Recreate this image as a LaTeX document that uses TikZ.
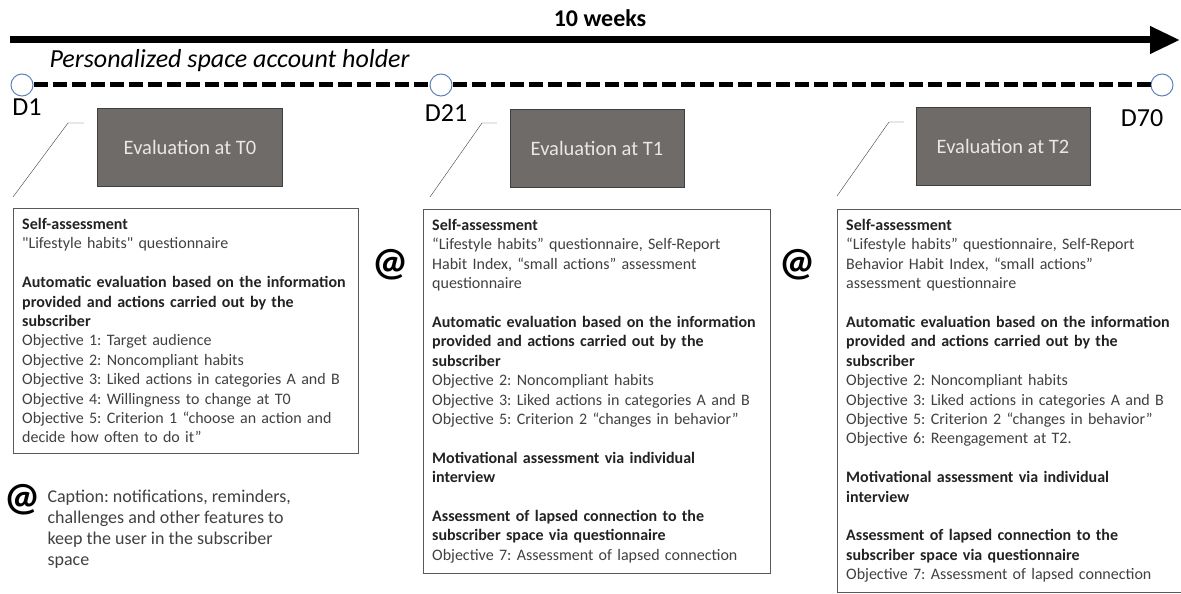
\documentclass[tikz,border=0pt]{standalone}
\usepackage{fontspec}
\setmainfont{Carlito}
\usepackage{tikz}
\usetikzlibrary{arrows.meta,positioning}
\definecolor{evalgray}{HTML}{6E6B69}
\definecolor{evaltext}{HTML}{E8E8E8}
\definecolor{evaledge}{HTML}{3F3F3F}
\definecolor{markblue}{HTML}{5B84B5}
\definecolor{bodytext}{HTML}{404040}
\definecolor{headtext}{HTML}{222222}
\definecolor{frameedge}{HTML}{595959}
\newcommand{\hd}[1]{\textbf{\color{headtext}#1}}
\newcommand{\sq}{{\addfontfeatures{Ligatures=TeXOff}"}}
\frenchspacing
\tikzset{%
	evalbox/.style  = {draw=evaledge, fill=evalgray, text=evaltext, rectangle, minimum width=174pt, minimum height=78pt, font=\fontsize{20.5}{24}\selectfont}, % Evaluation
	infobox/.style  = {draw=frameedge, rectangle, anchor=north west, align=left, inner xsep=9pt, inner ysep=10pt, text=bodytext, font=\frenchspacing\fontsize{16}{19.4}\selectfont}, % Contents
	daymark/.style  = {draw=markblue, fill=white, circle, minimum size=22pt, inner sep=0pt, line width=1pt}, % Day
	daylabel/.style = {font=\fontsize{26}{30}\selectfont},
	atsign/.style   = {font=\bfseries\fontsize{40}{40}\selectfont},
	waypoint/.style = {coordinate},
}

\begin{document}
\begin{tikzpicture}[x=1pt, y=-1pt]
		\useasboundingbox (0,0) rectangle (1181,594);
		% time axis
		\node[font=\bfseries\fontsize{24}{28}\selectfont] (weeks) at (600,18) {10 weeks};
		\node[waypoint] (axstart) at (10,40) {};
		\node[waypoint] (axend) at (1180,40) {};
		\draw[line width=7pt, -{Triangle[length=30pt,width=26pt]}] (axstart) -- (axend);
		\node[font=\itshape\fontsize{26}{30}\selectfont, anchor=west] (holder) at (46,61) {Personalized space account holder};
		% days
		\node[daymark] (d1) at (22,85) {};
		\node[daymark] (d21) at (441,85) {};
		\node[daymark] (d70) at (1162,85) {};
		\draw[line width=5pt, dash pattern=on 14pt off 5pt] (d1) -- (d21);
		\draw[line width=5pt, dash pattern=on 14pt off 5pt] (d21) -- (d70);
		\node[daylabel] (l1) at (27,107) {D1};
		\node[daylabel] (l21) at (446,113) {D21};
		\node[daylabel] (l70) at (1142,118) {D70};
		% evaluations
		\node[evalbox, minimum width=185pt] (t0) at (190,147) {Evaluation at T0};
		\node[evalbox] (t1) at (597,148) {Evaluation at T1};
		\node[evalbox] (t2) at (1003,146) {Evaluation at T2};
		\node[infobox, text width=327pt] (b0) at (13,208) {\hd{Self-assessment}\\
			\sq Lifestyle habits\sq{} questionnaire\\[19.4pt]
			\hd{Automatic evaluation based on the information}\\
			\hd{provided and actions carried out by the}\\
			\hd{subscriber}\\
			Objective 1: Target audience\\
			Objective 2: Noncompliant habits\\
			Objective 3: Liked actions in categories A and B\\
			Objective 4: Willingness to change at T0\\
			Objective 5: Criterion 1 “choose an action and\\
			decide how often to do it”};
		\node[infobox, text width=329pt] (b1) at (423,209) {\hd{Self-assessment}\\
			“Lifestyle habits” questionnaire, Self-Report\\
			Habit Index, “small actions” assessment\\
			questionnaire\\[19.4pt]
			\hd{Automatic evaluation based on the information}\\
			\hd{provided and actions carried out by the}\\
			\hd{subscriber}\\
			Objective 2: Noncompliant habits\\
			Objective 3: Liked actions in categories A and B\\
			Objective 5: Criterion 2 “changes in behavior”\\[19.4pt]
			\hd{Motivational assessment via individual}\\
			\hd{interview}\\[19.4pt]
			\hd{Assessment of lapsed connection to the}\\
			\hd{subscriber space via questionnaire}\\
			Objective 7: Assessment of lapsed connection};
		\node[infobox, text width=330pt] (b2) at (837,209) {\hd{Self-assessment}\\
			“Lifestyle habits” questionnaire, Self-Report\\
			Behavior Habit Index, “small actions”\\
			assessment questionnaire\\[19.4pt]
			\hd{Automatic evaluation based on the information}\\
			\hd{provided and actions carried out by the}\\
			\hd{subscriber}\\
			Objective 2: Noncompliant habits\\
			Objective 3: Liked actions in categories A and B\\
			Objective 5: Criterion 2 “changes in behavior”\\
			Objective 6: Reengagement at T2.\\[19.4pt]
			\hd{Motivational assessment via individual}\\
			\hd{interview}\\[19.4pt]
			\hd{Assessment of lapsed connection to the}\\
			\hd{subscriber space via questionnaire}\\
			Objective 7: Assessment of lapsed connection};
		% pointers
		\node[waypoint] (p0a) at (13,197) {};
		\node[waypoint] (p0b) at (68,123) {};
		\node[waypoint] (p0c) at (84,123) {};
		\node[waypoint] (p1a) at (430,197) {};
		\node[waypoint] (p1b) at (482,123) {};
		\node[waypoint] (p1c) at (497,123) {};
		\node[waypoint] (p2a) at (837,196) {};
		\node[waypoint] (p2b) at (889,122) {};
		\node[waypoint] (p2c) at (904,122) {};
		\draw[evaledge] (p0a) -- (p0b) -- (p0c);
		\draw[evaledge] (p1a) -- (p1b) -- (p1c);
		\draw[evaledge] (p2a) -- (p2b) -- (p2c);
		% reminders
		\node[atsign] (at1) at (390,265) {@};
		\node[atsign] (at2) at (797,265) {@};
		\node[atsign] (at0) at (22,500) {@};
		\node[anchor=north west, align=left, text=bodytext, font=\frenchspacing\fontsize{18}{21}\selectfont] (caption) at (44,486) {Caption: notifications, reminders,\\
			challenges and other features to\\
			keep the user in the subscriber\\
			space};
		\end{tikzpicture}
\end{document}
